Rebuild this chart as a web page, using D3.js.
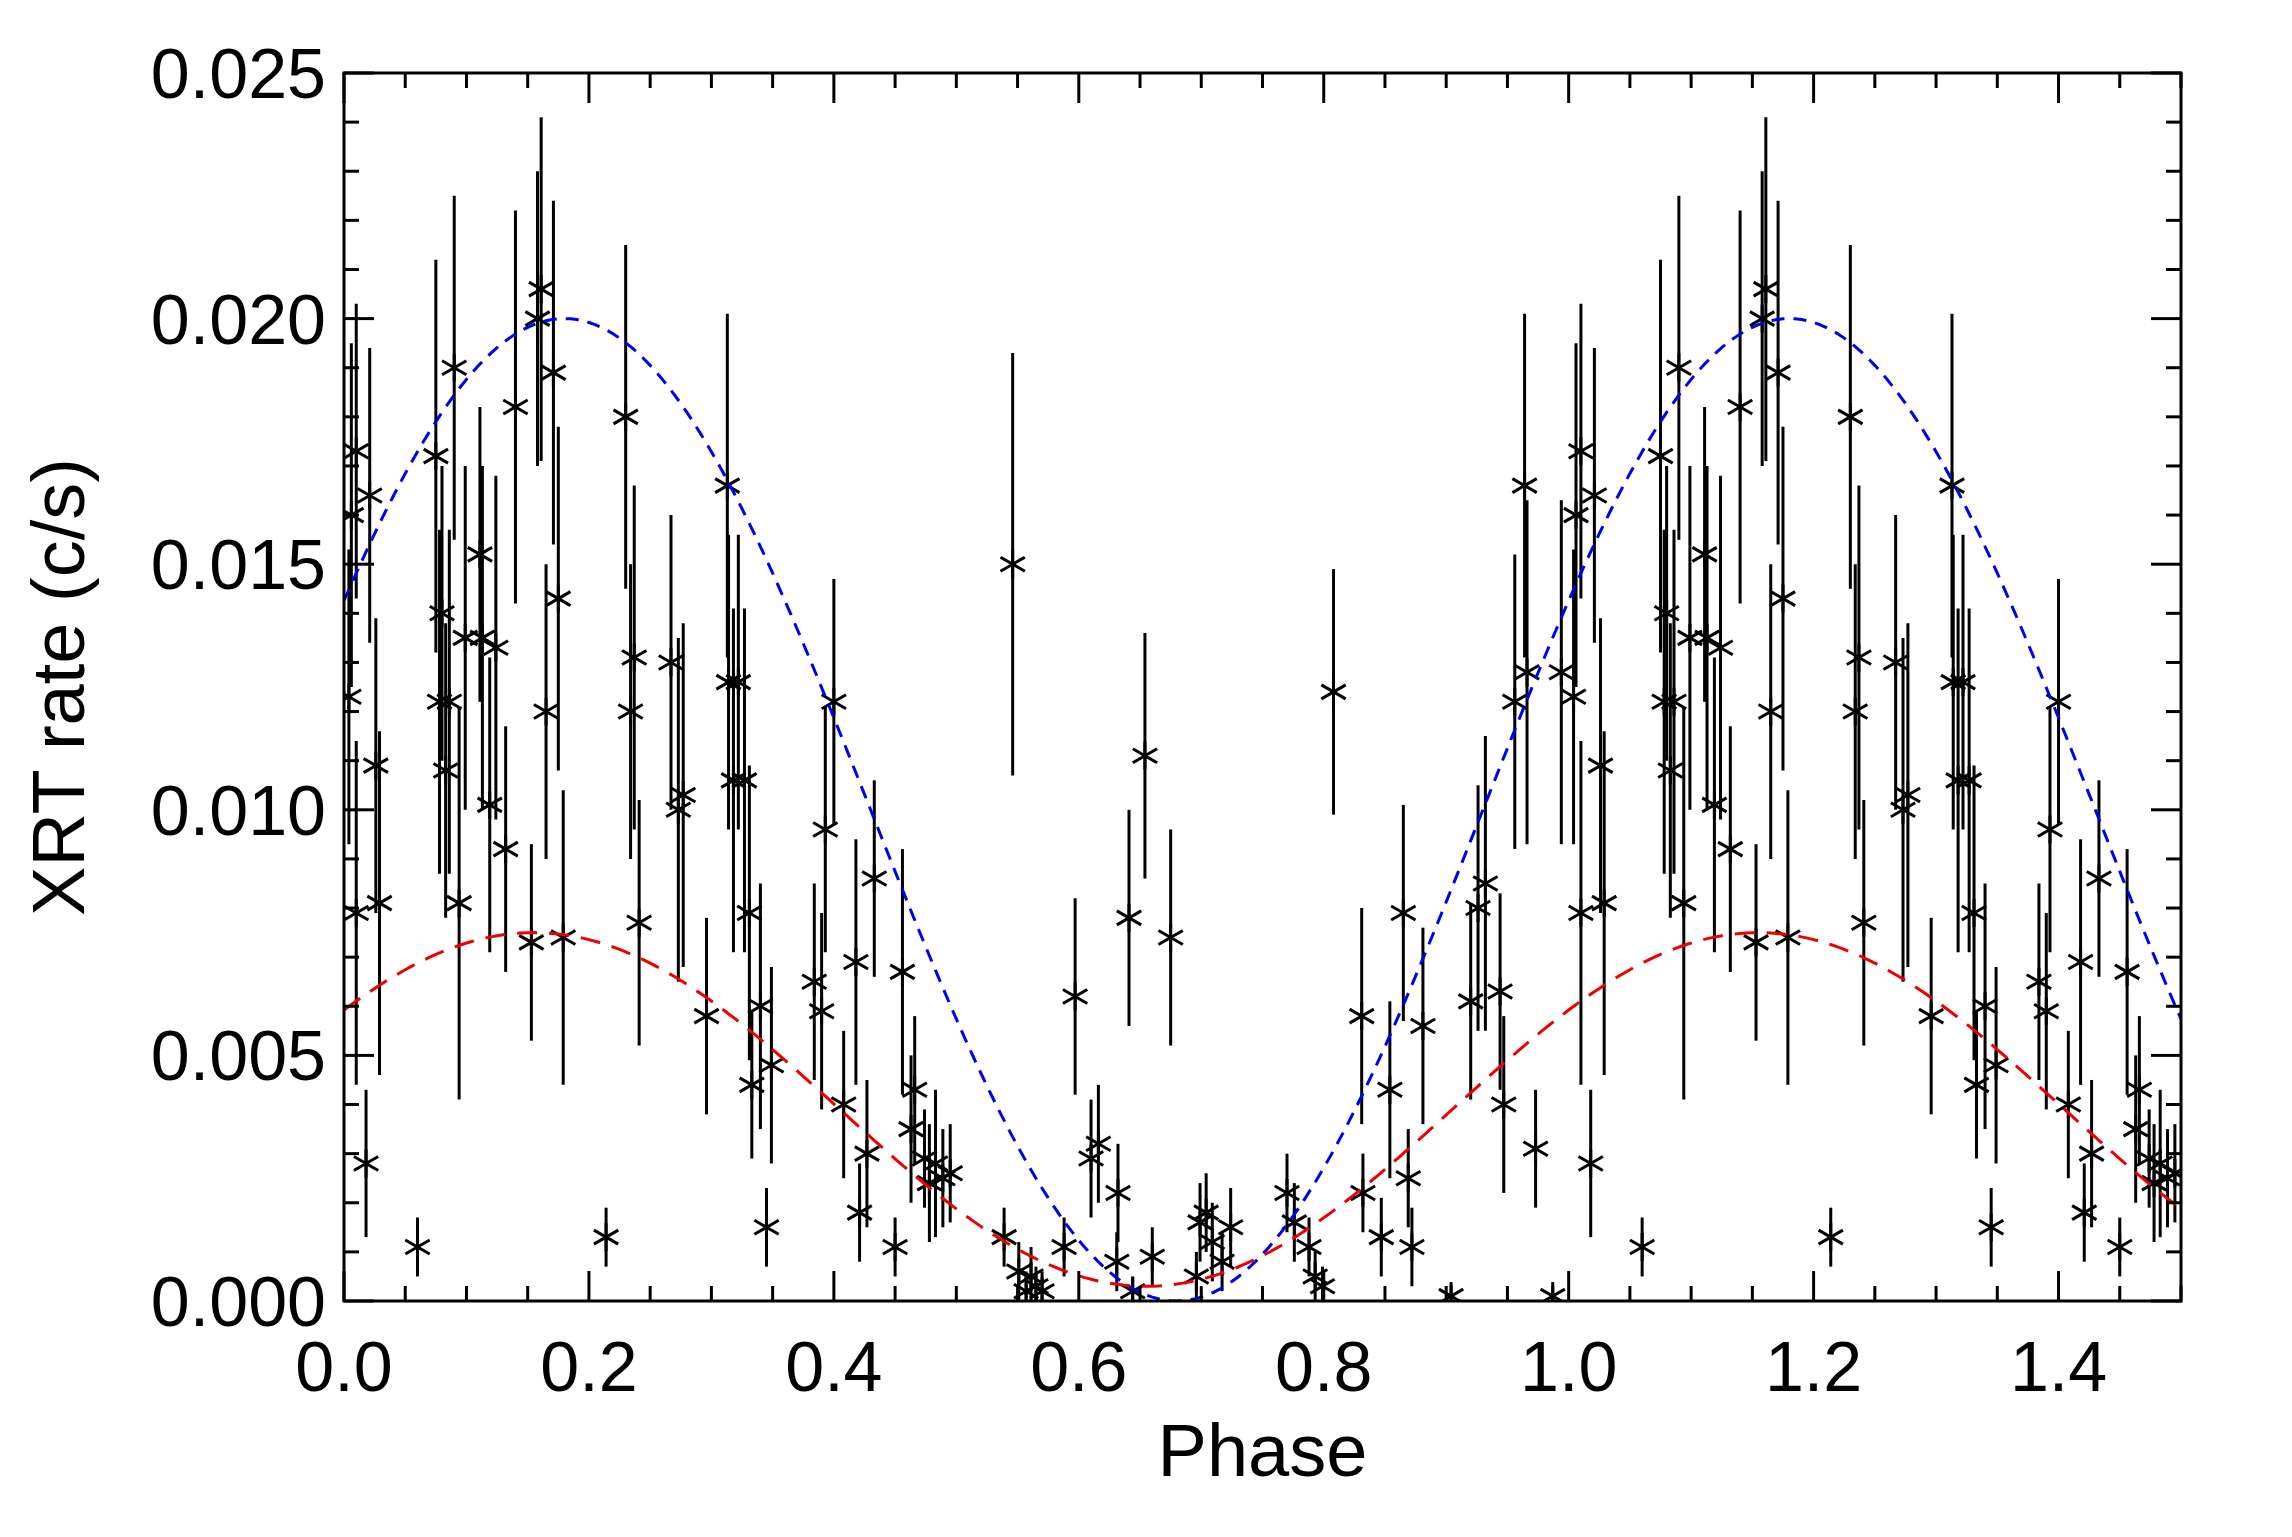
<!DOCTYPE html>
<html><head><meta charset="utf-8">
<script src="https://cdn.jsdelivr.net/npm/d3@7"></script>
<style>body{margin:0;background:#fff}svg{display:block}</style>
</head><body>
<svg id="c" width="2292" height="1537"></svg>
<script>
// observed phases (first cycle), rates and 1-sigma errors
const phase = [0.004,0.006,0.010,0.010,0.018,0.021,0.026,0.029,0.060,0.075,0.078,0.080,0.083,0.086,0.090,0.094,0.099,0.111,0.113,0.119,0.124,0.132,0.140,0.153,0.158,0.161,0.165,0.171,0.175,0.179,0.214,0.230,0.234,0.237,0.241,0.267,0.273,0.277,0.296,0.313,0.314,0.318,0.322,0.327,0.331,0.333,0.340,0.345,0.349,0.384,0.390,0.393,0.400,0.408,0.418,0.421,0.427,0.433,0.450,0.456,0.463,0.466,0.474,0.478,0.483,0.489,0.495,0.539,0.546,0.551,0.557,0.561,0.565,0.570,0.588,0.597,0.610,0.616,0.631,0.632,0.641,0.644,0.654,0.660,0.675,0.696,0.699,0.704,0.709,0.717,0.724,0.770,0.776,0.788,0.793,0.799,0.808,0.832,0.831,0.847,0.854,0.865,0.869,0.872,0.881,0.904,0.920,0.926,0.932,0.944,0.947,0.956,0.964,0.966,0.973,0.987,0.994];
const rate = [0.0123,0.0160,0.0173,0.0079,0.0028,0.0164,0.0109,0.0081,0.0011,0.0172,0.0122,0.0140,0.0108,0.0122,0.0190,0.0081,0.0135,0.0152,0.0135,0.0101,0.0133,0.0092,0.0182,0.0073,0.0200,0.0206,0.0120,0.0189,0.0143,0.0074,0.0013,0.0180,0.0120,0.0131,0.0077,0.0130,0.0100,0.0103,0.0058,0.0166,0.0126,0.0106,0.0126,0.0106,0.0079,0.0044,0.0060,0.0015,0.0048,0.0065,0.0059,0.0096,0.0122,0.0040,0.0069,0.0018,0.0030,0.0086,0.0011,0.0067,0.0035,0.0043,0.0029,0.0024,0.0028,0.0025,0.0026,0.0013,0.0150,0.0006,0.0002,0.0005,0.0003,0.0002,0.0011,0.0062,0.0029,0.0032,0.0008,0.0022,0.0078,0.0002,0.0111,0.0009,0.0074,0.0005,0.0016,0.0018,0.0012,0.0008,0.0015,0.0022,0.0016,0.0011,0.0005,0.0003,0.0124,0.0022,0.0058,0.0013,0.0043,0.0079,0.0025,0.0011,0.0056,0.0001,0.0061,0.0080,0.0085,0.0063,0.0040,0.0122,0.0166,0.0128,0.0031,0.0001,0.0128];
const err = [0.0030,0.0035,0.0030,0.0035,0.0015,0.0030,0.0030,0.0035,0.0006,0.0040,0.0035,0.0030,0.0030,0.0035,0.0035,0.0040,0.0035,0.0030,0.0035,0.0030,0.0035,0.0025,0.0040,0.0020,0.0030,0.0035,0.0030,0.0035,0.0035,0.0030,0.0006,0.0035,0.0030,0.0035,0.0025,0.0030,0.0035,0.0035,0.0020,0.0035,0.0030,0.0035,0.0030,0.0035,0.0030,0.0015,0.0025,0.0008,0.0020,0.0020,0.0020,0.0025,0.0025,0.0015,0.0025,0.0010,0.0015,0.0020,0.0006,0.0025,0.0015,0.0015,0.0010,0.0012,0.0015,0.0010,0.0010,0.0006,0.0043,0.0006,0.0004,0.0006,0.0004,0.0004,0.0006,0.0020,0.0012,0.0012,0.0006,0.0010,0.0022,0.0003,0.0025,0.0006,0.0022,0.0005,0.0008,0.0008,0.0008,0.0006,0.0008,0.0008,0.0008,0.0006,0.0005,0.0004,0.0025,0.0008,0.0022,0.0008,0.0018,0.0022,0.0010,0.0008,0.0020,0.0002,0.0020,0.0025,0.0030,0.0020,0.0018,0.0030,0.0035,0.0035,0.0012,0.0002,0.0035];
// sinusoidal model parameters: [mean, amplitude, phase of maximum]
const modelBlue = [0.0100, 0.0100, 0.180];
const modelRed  = [0.0039, 0.0036, 0.155];
const xTicks = [0.0,0.2,0.4,0.6,0.8,1.0,1.2,1.4];
const yTicks = [0.000,0.005,0.010,0.015,0.020,0.025];

const svg = d3.select('#c');
const L=344, R=2181, T=73, B=1301;
const x = d3.scaleLinear().domain([0,1.5]).range([L,R]);
const y = d3.scaleLinear().domain([0,0.025]).range([B,T]);
const font = '"Liberation Sans", Arial, sans-serif';

const pts = [];
phase.forEach((p,i)=>{ pts.push({p,r:rate[i],e:err[i]}); if(p+1<=1.5) pts.push({p:p+1,r:rate[i],e:err[i]}); });

svg.append('clipPath').attr('id','cl').append('rect').attr('x',L).attr('y',T).attr('width',R-L).attr('height',B-T);
const g = svg.append('g').attr('clip-path','url(#cl)');

g.selectAll('line.eb').data(pts).join('line')
 .attr('x1',d=>x(d.p)).attr('x2',d=>x(d.p))
 .attr('y1',d=>y(d.r-d.e)).attr('y2',d=>y(d.r+d.e))
 .attr('stroke','#000').attr('stroke-width',3);
const s=14;
pts.forEach(d=>{
  const cx=x(d.p), cy=y(d.r);
  [[0,-s,0,s],[-s*0.87,-s*0.5,s*0.87,s*0.5],[-s*0.87,s*0.5,s*0.87,-s*0.5]].forEach(a=>{
    g.append('line').attr('x1',cx+a[0]).attr('y1',cy+a[1]).attr('x2',cx+a[2]).attr('y2',cy+a[3])
     .attr('stroke','#000').attr('stroke-width',3);
  });
});

const grid = d3.range(0,1.5001,0.005);
function model(m){ return grid.map(p=>[p, m[0]+m[1]*Math.cos(2*Math.PI*(p-m[2]))]); }
const line = d3.line().x(d=>x(d[0])).y(d=>y(d[1]));
g.append('path').attr('d',line(model(modelBlue))).attr('fill','none').attr('stroke','#0000ee').attr('stroke-width',3).attr('stroke-dasharray','13,9');
g.append('path').attr('d',line(model(modelRed))).attr('fill','none').attr('stroke','#ee0000').attr('stroke-width',3).attr('stroke-dasharray','20,12');

svg.append('rect').attr('x',L).attr('y',T).attr('width',R-L).attr('height',B-T).attr('fill','none').attr('stroke','#000').attr('stroke-width',3);
const tk = svg.append('g').attr('stroke','#000').attr('stroke-width',3);
d3.range(0,1.5001,0.05).forEach((v,i)=>{
  const len = (i%4===0)?30:15, xx=x(v);
  tk.append('line').attr('x1',xx).attr('x2',xx).attr('y1',B).attr('y2',B-len);
  tk.append('line').attr('x1',xx).attr('x2',xx).attr('y1',T).attr('y2',T+len);
});
d3.range(0,0.02501,0.001).forEach((v,i)=>{
  const len = (i%5===0)?30:15, yy=y(v);
  tk.append('line').attr('y1',yy).attr('y2',yy).attr('x1',L).attr('x2',L+len);
  tk.append('line').attr('y1',yy).attr('y2',yy).attr('x1',R).attr('x2',R-len);
});
svg.selectAll('text.xt').data(xTicks).join('text').attr('x',d=>x(d)).attr('y',B+90)
 .attr('text-anchor','middle').attr('font-family',font).attr('font-size',70).text(d=>d.toFixed(1));
svg.selectAll('text.yt').data(yTicks).join('text').attr('x',L-18).attr('y',d=>y(d)+25)
 .attr('text-anchor','end').attr('font-family',font).attr('font-size',70).text(d=>d.toFixed(3));
svg.append('text').attr('x',(L+R)/2).attr('y',B+175).attr('text-anchor','middle').attr('font-family',font).attr('font-size',74).text('Phase');
svg.append('text').attr('transform',`translate(${L-260},${(T+B)/2}) rotate(-90)`).attr('text-anchor','middle').attr('font-family',font).attr('font-size',74).text('XRT rate (c/s)');
</script>
</body></html>
